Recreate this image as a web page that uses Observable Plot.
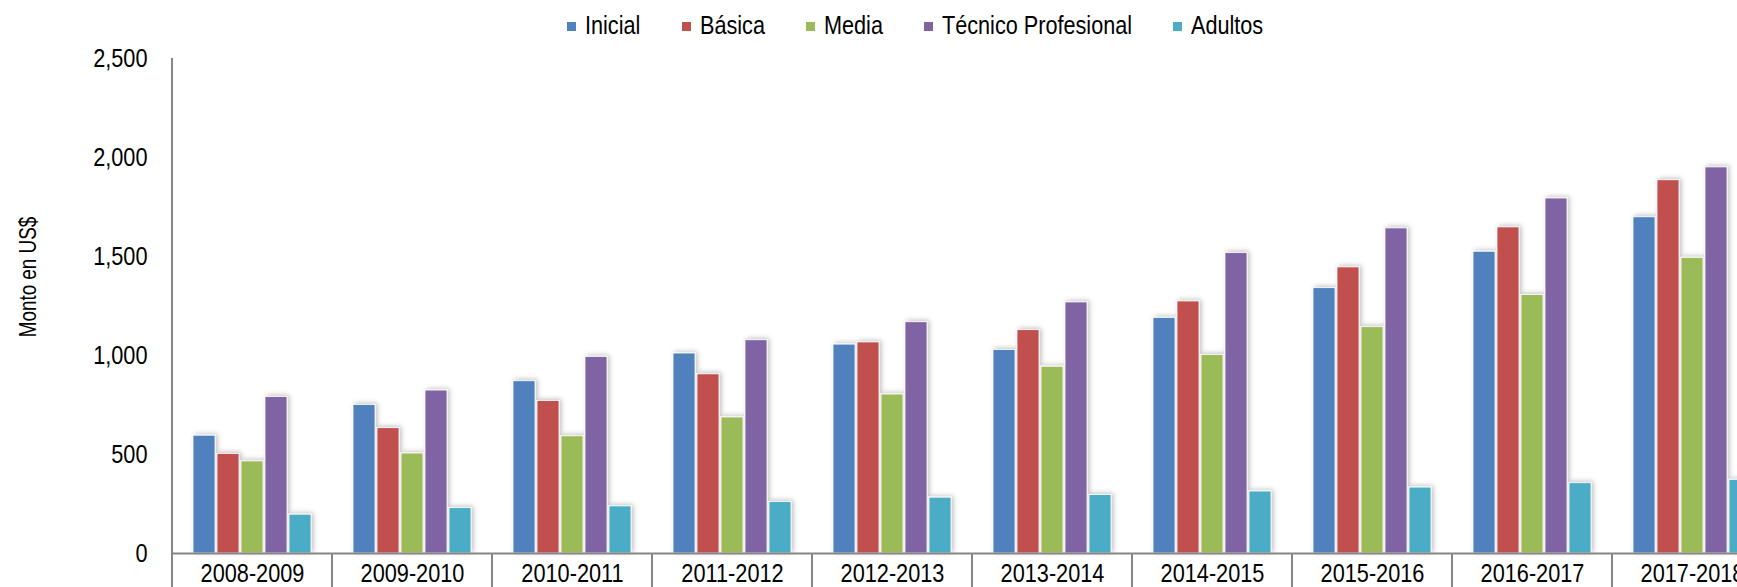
<!DOCTYPE html>
<html><head><meta charset="utf-8">
<script src="https://cdn.jsdelivr.net/npm/d3@7"></script>
<script src="https://cdn.jsdelivr.net/npm/@observablehq/plot@0.6"></script>
<style>
html,body{margin:0;padding:0;background:#fff;overflow:hidden;width:1737px;height:587px}
#wrap{position:relative;width:1830px;height:587px;font-family:"Liberation Sans",Arial,sans-serif;color:#000}
#legend{position:absolute;left:0;top:10px;width:1830px;display:flex;justify-content:center;gap:41px;font-size:26.4px;line-height:31px;z-index:2}
.item{display:flex;align-items:center}
.sw{width:9px;height:9px;margin-right:9px;margin-top:2px}
.tx{display:inline-block;transform:scaleX(0.82);transform-origin:left center;white-space:nowrap}
#ylabel{position:absolute;left:28px;top:277px;transform:translate(-50%,-50%) rotate(-90deg) scaleX(0.82);font-size:23px;white-space:nowrap;z-index:2}
#chart{position:absolute;left:0;top:0}
</style></head>
<body><div id="wrap"><div id="legend"></div><div id="ylabel">Monto en US$</div><div id="chart"></div></div>
<script>
const periods = ["2008-2009","2009-2010","2010-2011","2011-2012","2012-2013","2013-2014","2014-2015","2015-2016","2016-2017","2017-2018"];
const series = ["Inicial","Básica","Media","Técnico Profesional","Adultos"];
const colors = ["#4F81BD","#C0504D","#9BBB59","#8064A2","#4BACC6"];
const inicial = [595, 750, 870, 1010, 1055, 1028, 1190, 1340, 1524, 1698];
const basica  = [503, 633, 770, 905, 1066, 1128, 1273, 1445, 1647, 1885];
const media   = [465, 505, 592, 687, 803, 943, 1003, 1143, 1305, 1493];
const tecnico = [790, 823, 993, 1077, 1168, 1268, 1517, 1642, 1793, 1950];
const adultos = [196, 229, 238, 260, 282, 295, 313, 333, 355, 372];
const yTicks = [0, 500, 1000, 1500, 2000, 2500];

const valuesBySeries = [inicial, basica, media, tecnico, adultos];
const rows = [];
periods.forEach((p, i) => series.forEach((s, j) => rows.push({period: p, series: s, value: valuesBySeries[j][i]})));

const narrow = 0.82;

// legend
const legend = document.getElementById("legend");
series.forEach((s, j) => {
  const it = document.createElement("div"); it.className = "item";
  const sw = document.createElement("div"); sw.className = "sw"; sw.style.background = colors[j];
  const tx = document.createElement("span"); tx.className = "tx"; tx.textContent = s;
  it.append(sw, tx); legend.append(it);
});
legend.querySelectorAll(".tx").forEach(t => { t.style.marginRight = (-(1 - narrow) * t.offsetWidth) + "px"; });

const axisColor = "#868686";
const plot = Plot.plot({
  width: 1830, height: 587,
  marginTop: 58, marginBottom: 34, marginLeft: 172, marginRight: 58,
  style: {fontFamily: "Liberation Sans, Arial, sans-serif", fontSize: "26.5px", color: "#000", background: "transparent", overflow: "visible"},
  facet: {data: rows, x: "period", label: null},
  fx: {domain: periods, paddingInner: 0, paddingOuter: 0, label: null, tickSize: 0, tickPadding: 10, axis: "bottom"},
  x: {domain: series, paddingInner: 0.07, paddingOuter: 0.81, axis: null},
  y: {domain: [0, 2500], ticks: yTicks, tickFormat: d3.format(","), tickSize: 0, tickPadding: 25, label: null},
  color: {domain: series, range: colors},
  marks: [
    Plot.barY(rows, {x: "series", y: "value", fill: "series", stroke: "white", strokeWidth: 0.8}),
    Plot.ruleY([0], {stroke: axisColor, strokeWidth: 2})
  ]
});
document.getElementById("chart").append(plot);

const svg = d3.select(plot);
const defs = svg.insert("defs", ":first-child");
const f = defs.append("filter").attr("id", "shadow").attr("x", "-30%").attr("y", "-10%").attr("width", "160%").attr("height", "120%");
f.append("feDropShadow").attr("dx", 2).attr("dy", -1).attr("stdDeviation", 2.4).attr("flood-color", "#000").attr("flood-opacity", 0.25);
svg.selectAll('g[aria-label="bar"]').attr("filter", "url(#shadow)");

// narrow the axis texts horizontally around their anchor (Arial Narrow look)
svg.selectAll("text").each(function () {
  const bb = this.getBBox();
  const anchor = getComputedStyle(this).textAnchor || this.getAttribute("text-anchor") || "start";
  const cx = anchor === "end" ? bb.x + bb.width : anchor === "middle" ? bb.x + bb.width / 2 : bb.x;
  const t = this.getAttribute("transform") || "";
  this.setAttribute("transform", `${t} translate(${cx},0) scale(${narrow},1) translate(${-cx},0)`.trim());
});

// category separators and y axis line from the plot's scales
const fxs = plot.scale("fx");
const band = d3.scaleBand(fxs.domain, fxs.range).paddingInner(0).paddingOuter(0);
const ys = plot.scale("y");
const yScale = d3.scaleLinear(ys.domain, ys.range);
const y0 = yScale(0), yTop = yScale(2500);
const g = svg.append("g").attr("stroke", axisColor).attr("stroke-width", 2);
g.append("line").attr("x1", band(periods[0])).attr("x2", band(periods[0])).attr("y1", yTop).attr("y2", 587);
periods.slice(1).forEach(p => {
  g.append("line").attr("x1", band(p)).attr("x2", band(p)).attr("y1", y0).attr("y2", 587);
});
</script></body></html>
